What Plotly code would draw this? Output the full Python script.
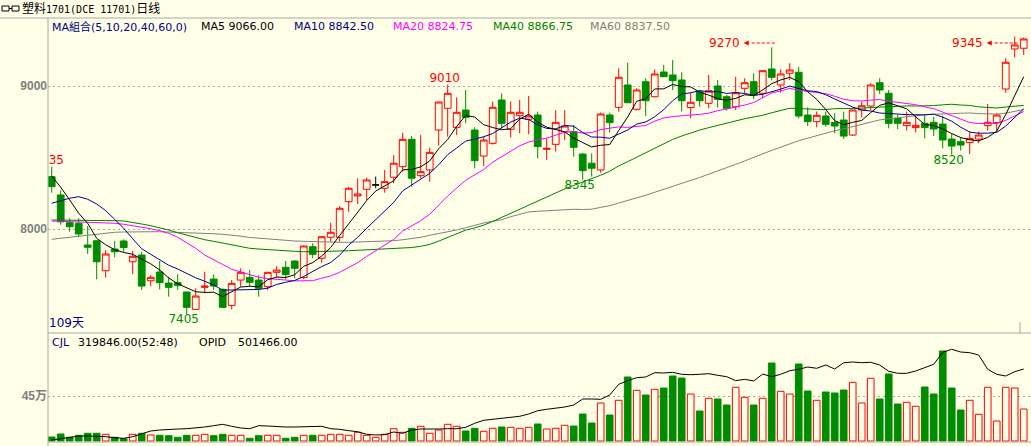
import plotly.graph_objects as go

W, H = 1031, 446
BG = "#FFFFE8"
RED = "#FF0000"
GREEN = "#008C00"
NAVY = "#000080"
GRAY = "#808080"
AXIS = "#A8A8A8"
FONT = "DejaVu Sans"

# ---------------- data ----------------
idx = list(range(109))

opens = [8366, 8238, 8044, 8040, 7888, 7918, 7708, 7860, 7916, 7771,
         7818, 7638, 7699, 7622, 7625, 7559, 7438, 7592, 7650, 7578,
         7466, 7643, 7662, 7643, 7597, 7697, 7732, 7776, 7660, 7876,
         7795, 7942, 7942, 8191, 8231, 8278, 8308, 8285, 8362, 8436,
         8627, 8373, 8413, 8692, 8844, 8711, 8832, 8692, 8510, 8599,
         8902, 8697, 8792, 8767, 8797, 8557, 8592, 8680, 8680, 8524,
         8460, 8413, 8797, 8851, 9007, 8837, 9030, 8925, 9098, 9077,
         9042, 8849, 8960, 8879, 9000, 8925, 8855, 8984, 9030, 8949,
         9119, 9007, 9089, 9096, 8797, 8751, 8790, 8744, 8762, 8657,
         8832, 8860, 9023, 8949, 8774, 8723, 8709, 8739, 8746, 8734,
         8629, 8611, 8604, 8629, 8723, 8744, 8979, 9259, 9264]

highs = [8435, 8270, 8075, 8075, 8021, 7920, 7853, 7916, 7928, 7846,
         7841, 7678, 7776, 7667, 7683, 7562, 7585, 7701, 7683, 7585,
         7643, 7725, 7713, 7678, 7700, 7741, 7776, 7780, 7885, 7900,
         7950, 8044, 8161, 8296, 8355, 8359, 8366, 8413, 8517, 8673,
         8650, 8657, 8569, 8890, 9010, 8921, 8972, 8711, 8646, 8891,
         8949, 8891, 8902, 8930, 8821, 8634, 8832, 8832, 8727, 8530,
         8529, 8814, 8814, 9124, 9163, 8984, 9054, 9117, 9147, 9182,
         9096, 8953, 8972, 9077, 9042, 8937, 9065, 9054, 9089, 9112,
         9270, 9117, 9159, 9135, 8851, 8821, 8821, 8809, 8821, 8835,
         8891, 9019, 9054, 8972, 8797, 8821, 8797, 8797, 8785, 8792,
         8669, 8641, 8681, 8681, 8874, 8809, 9194, 9345, 9340]

lows = [8254, 8030, 7981, 7942, 7825, 7648, 7660, 7802, 7841, 7685,
        7574, 7601, 7578, 7527, 7574, 7405, 7435, 7550, 7574, 7450,
        7438, 7597, 7597, 7527, 7574, 7662, 7648, 7655, 7648, 7795,
        7765, 7911, 7911, 8121, 8175, 8203, 8285, 8254, 8320, 8401,
        8296, 8355, 8331, 8583, 8646, 8657, 8739, 8424, 8441, 8590,
        8704, 8639, 8669, 8662, 8494, 8483, 8541, 8622, 8506, 8345,
        8366, 8394, 8674, 8821, 8880, 8828, 8790, 8921, 9061, 8972,
        8821, 8774, 8855, 8844, 8849, 8828, 8832, 8949, 8907, 8914,
        9040, 8953, 9042, 8774, 8720, 8711, 8715, 8669, 8630, 8650,
        8781, 8832, 8944, 8704, 8699, 8688, 8676, 8634, 8650, 8564,
        8520, 8548, 8524, 8599, 8688, 8681, 8953, 9200, 9217]

closes = [8296, 8050, 8016, 7965, 7872, 7771, 7825, 7841, 7870, 7809,
          7601, 7662, 7625, 7592, 7606, 7452, 7531, 7601, 7601, 7452,
          7620, 7697, 7627, 7585, 7697, 7713, 7681, 7725, 7881, 7823,
          7946, 7977, 8145, 8285, 8245, 8343, 8308, 8331, 8460, 8627,
          8355, 8401, 8536, 8888, 8949, 8816, 8781, 8478, 8622, 8851,
          8739, 8816, 8816, 8790, 8576, 8564, 8746, 8720, 8571, 8408,
          8425, 8804, 8744, 9061, 8883, 8972, 8897, 9084, 9065, 9037,
          8897, 8886, 8897, 8967, 8907, 8844, 8953, 9023, 8937, 9107,
          9061, 9084, 9112, 8790, 8751, 8795, 8732, 8720, 8650, 8832,
          8862, 9007, 8972, 8739, 8739, 8746, 8725, 8709, 8699, 8622,
          8580, 8587, 8634, 8657, 8746, 8797, 9166, 9287, 9329]

# moving-average values at the start of the window (history before the window is not visible)
ma5_early = [8371, 8292, 8203, 8110]
ma10_early = [8180, 8198, 8215, 8226, 8208, 8175, 8128, 8068, 8005]
ma20_early = [8056, 8054, 8051, 8049, 8047, 8047, 8044, 8040, 8033, 8023,
              8014, 8002, 7988, 7970, 7942, 7904, 7865, 7818, 7782]
ma40_early = [8063, 8063, 8063, 8062, 8061, 8061, 8060, 8058, 8056, 8047,
              8035, 8023, 8009, 7993, 7974, 7956, 7939, 7925, 7914, 7902,
              7890, 7876, 7865, 7860, 7855, 7851, 7846, 7844, 7841, 7841,
              7841, 7844, 7846, 7848, 7851, 7855, 7860, 7863, 7865]
ma60_early = [7928, 7935, 7944, 7953, 7960, 7967, 7972, 7977, 7979, 7981,
              7981, 7981, 7981, 7979, 7979, 7977, 7974, 7972, 7967, 7963,
              7958, 7950, 7941, 7935, 7929, 7923, 7918, 7916, 7914, 7911,
              7909, 7907, 7907, 7907, 7909, 7909, 7911, 7914, 7918, 7925,
              7933, 7942, 7956, 7967, 7977, 7993, 8009, 8026, 8042, 8054,
              8065, 8086, 8105, 8119, 8124, 8128, 8133, 8135, 8138]

# volume (CJL) in 万 (10k) lots
vol_wan = [4.0, 7.0, 3.7, 5.7, 7.7, 7.7, 6.7, 3.7, 2.3, 6.7,
           7.7, 6.0, 5.7, 5.3, 3.7, 5.7, 5.7, 6.7, 5.3, 6.7,
           5.7, 5.7, 2.7, 5.3, 5.7, 5.7, 2.7, 3.7, 5.7, 5.7,
           5.7, 6.7, 6.7, 5.7, 8.7, 5.7, 3.7, 6.7, 12.3, 8.7,
           12.7, 14.7, 7.7, 11.0, 16.7, 14.7, 10.0, 12.7, 9.7, 12.7,
           14.0, 13.7, 12.7, 13.7, 17.0, 12.0, 12.7, 15.7, 15.0, 27.0,
           18.0, 38.0, 26.0, 40.7, 64.0, 50.7, 46.0, 51.7, 53.0, 65.0,
           63.0, 47.0, 30.0, 42.7, 42.0, 36.0, 53.7, 43.7, 36.0, 42.7,
           78.0, 49.7, 47.0, 77.0, 50.0, 40.7, 49.0, 48.0, 51.0, 58.7,
           38.0, 62.7, 42.0, 67.0, 37.0, 38.7, 34.7, 54.0, 47.0, 90.0,
           53.0, 31.0, 40.7, 26.7, 53.7, 20.0, 53.7, 53.0, 31.9846]

# open interest (OPID) in 万
oi_wan = [21.75, 22.27, 22.95, 23.35, 23.35, 23.35, 23.07, 22.67, 22.43, 23.07,
          24.15, 25.35, 25.75, 26.03, 26.15, 26.27, 26.55, 26.95, 27.47, 28.03,
          27.23, 26.55, 26.27, 27.47, 27.35, 27.07, 26.95, 26.95, 26.95, 26.95,
          27.23, 26.27, 26.03, 25.47, 25.07, 24.03, 23.75, 23.87, 24.95, 24.43,
          25.75, 26.15, 26.03, 26.15, 26.27, 26.27, 26.83, 28.43, 29.63, 30.03,
          30.55, 31.07, 31.23, 32.15, 33.47, 34.03, 34.43, 34.95, 35.75, 38.15,
          38.15, 38.03, 39.75, 44.03, 45.47, 46.67, 46.95, 48.67, 48.55, 48.83,
          48.03, 47.87, 48.03, 48.27, 47.63, 47.07, 45.47, 46.03, 45.35, 48.15,
          47.07, 48.03, 49.47, 50.03, 50.95, 50.43, 51.75, 50.15, 52.67, 52.95,
          52.67, 52.83, 51.75, 49.23, 48.43, 48.43, 49.35, 50.67, 52.03, 56.83,
          58.03, 56.95, 56.67, 55.75, 50.03, 48.03, 47.35, 49.07, 50.1466]

price_ticks = [8000, 9000]
vol_tick = 450000
vol_tick_label = "45万"

title_text = ('<span style="font-size:12px">塑料</span>1701(DCE 11701)'
              '<span style="font-size:12px">日线</span>')
legend_items = [("MA組合(5,10,20,40,60,0)", NAVY), ("MA5 9066.00", "#000000"),
                ("MA10 8842.50", NAVY), ("MA20 8824.75", "#FF00FF"),
                ("MA40 8866.75", "#008000"), ("MA60 8837.50", GRAY)]
days_label = "109天"
vol_legend = [("CJL", NAVY), ("319846.00(52:48)", "#000000"),
              ("OPID", "#000000"), ("501466.00", "#000000")]

high_marks = [0, 44]          # red labels above the high
low_marks = [15, 59, 100]     # green labels below the low
arrow_marks = [80, 107]       # red labels with arrow to the high


def moving_average(vals, n, early):
    out = list(early)
    for i in range(n - 1, len(vals)):
        out.append(sum(vals[i - n + 1:i + 1]) / n)
    return out


ma5 = moving_average(closes, 5, ma5_early)
ma10 = moving_average(closes, 10, ma10_early)
ma20 = moving_average(closes, 20, ma20_early)
ma40 = moving_average(closes, 40, ma40_early)
ma60 = moving_average(closes, 60, ma60_early)

volumes = [v * 10000 for v in vol_wan]
oi = [v * 10000 for v in oi_wan]

# ---------------- layout geometry (pixels) ----------------
PLOT_L = 48
X0, X1 = -0.41, 108.81
P_TOP, P_BOT = 18, 333
V_TOP, V_BOT = 333, 442


def fx(px):
    return px / W


def fy(py):
    return 1 - py / H


fig = go.Figure()

# candles
norm = [i for i in idx if opens[i] != closes[i]]
doji = [i for i in idx if opens[i] == closes[i]]
fig.add_trace(go.Candlestick(
    x=norm, open=[opens[i] for i in norm], high=[highs[i] for i in norm],
    low=[lows[i] for i in norm], close=[closes[i] for i in norm],
    increasing=dict(line=dict(color=RED, width=1), fillcolor=BG),
    decreasing=dict(line=dict(color=GREEN, width=1), fillcolor=GREEN),
    whiskerwidth=0, hoverinfo="skip", showlegend=False, xaxis="x", yaxis="y"))
fig.add_trace(go.Candlestick(
    x=doji, open=[opens[i] for i in doji], high=[highs[i] for i in doji],
    low=[lows[i] for i in doji], close=[closes[i] for i in doji],
    increasing=dict(line=dict(color="#000000", width=1), fillcolor="#000000"),
    decreasing=dict(line=dict(color="#000000", width=1), fillcolor="#000000"),
    whiskerwidth=0, hoverinfo="skip", showlegend=False, xaxis="x", yaxis="y"))

# moving averages
for vals, col in [(ma60, GRAY), (ma40, "#008000"), (ma20, "#FF00FF"),
                  (ma10, "#000090"), (ma5, "#000000")]:
    fig.add_trace(go.Scatter(x=idx, y=vals, mode="lines", line=dict(color=col, width=1),
                             hoverinfo="skip", showlegend=False, xaxis="x", yaxis="y"))

# high / low labels (clipped to the plot area)
fig.add_trace(go.Scatter(
    x=[i - 0.33 for i in high_marks], y=[highs[i] for i in high_marks],
    text=[str(highs[i]) for i in high_marks], mode="text", textposition="top center",
    textfont=dict(color=RED, size=12, family=FONT), hoverinfo="skip", showlegend=False,
    xaxis="x", yaxis="y"))
fig.add_trace(go.Scatter(
    x=[i - 0.33 for i in low_marks], y=[lows[i] for i in low_marks],
    text=[str(lows[i]) for i in low_marks], mode="text", textposition="bottom center",
    textfont=dict(color=GREEN, size=12, family=FONT), hoverinfo="skip", showlegend=False,
    xaxis="x", yaxis="y"))

# volume bars
up = [closes[i] >= opens[i] for i in idx]
fig.add_trace(go.Bar(
    x=idx, y=volumes, width=0.74,
    marker=dict(color=[BG if u else GREEN for u in up],
                line=dict(color=[RED if u else GREEN for u in up], width=1)),
    hoverinfo="skip", showlegend=False, xaxis="x2", yaxis="y2"))
fig.add_trace(go.Scatter(x=idx, y=oi, mode="lines", line=dict(color="#000000", width=1),
                         hoverinfo="skip", showlegend=False, xaxis="x2", yaxis="y3"))


# price scale: 9000 at y=86px, 143 px per 1000
def price_at(py):
    return 9000 - (py - 86) * 1000 / 143


def vol_at(py):
    return (441 - py) * 10000


def oi_at(py):
    return (50.15 + (369 - py) * 0.4) * 10000


tickfont = dict(family="Liberation Sans, Noto Sans CJK SC", size=12, color=GRAY, weight="bold")
fig.update_layout(
    width=W, height=H, autosize=False,
    margin=dict(l=0, r=0, t=0, b=0, pad=0),
    paper_bgcolor=BG, plot_bgcolor=BG,
    boxgap=0.25, boxgroupgap=0,
    xaxis=dict(domain=[fx(PLOT_L), 1], range=[X0, X1], visible=False, anchor="y",
               rangeslider=dict(visible=False)),
    xaxis2=dict(domain=[fx(PLOT_L), 1], range=[X0, X1], visible=False, anchor="y2",
                matches="x"),
    yaxis=dict(domain=[fy(P_BOT), fy(P_TOP)], range=[price_at(P_BOT), price_at(P_TOP)],
               tickvals=price_ticks, ticktext=[str(t) for t in price_ticks],
               showgrid=True, gridcolor="#A8A8A8", griddash="2px,3px", gridwidth=1,
               zeroline=False, showline=False, ticks="", tickfont=tickfont, anchor="x"),
    yaxis2=dict(domain=[fy(V_BOT), fy(V_TOP)], range=[vol_at(V_BOT), vol_at(V_TOP)],
                tickvals=[vol_tick], ticktext=[vol_tick_label],
                showgrid=True, gridcolor="#A8A8A8", griddash="2px,3px", gridwidth=1,
                zeroline=False, showline=False, ticks="", tickfont=tickfont, anchor="x2"),
    yaxis3=dict(overlaying="y2", range=[oi_at(V_BOT), oi_at(V_TOP)], visible=False,
                anchor="x2"),
)

# frame lines
shapes = [
    dict(type="line", xref="paper", yref="paper", x0=0, x1=1, y0=fy(P_TOP), y1=fy(P_TOP)),
    dict(type="line", xref="paper", yref="paper", x0=fx(PLOT_L), x1=fx(PLOT_L), y0=fy(P_TOP), y1=0),
    dict(type="line", xref="paper", yref="paper", x0=fx(PLOT_L), x1=1, y0=fy(V_TOP), y1=fy(V_TOP)),
    dict(type="line", xref="paper", yref="paper", x0=fx(PLOT_L), x1=1, y0=fy(V_BOT), y1=fy(V_BOT)),
    dict(type="line", xref="paper", yref="paper", x0=fx(1020), x1=fx(1020), y0=fy(322), y1=fy(333)),
]
for s in shapes:
    s["line"] = dict(color=AXIS, width=1)
# title icon
shapes += [
    dict(type="rect", xref="paper", yref="paper", x0=fx(2), x1=fx(9), y0=fy(11), y1=fy(6),
         line=dict(color="#000000", width=1)),
    dict(type="rect", xref="paper", yref="paper", x0=fx(12), x1=fx(19), y0=fy(11), y1=fy(6),
         line=dict(color="#000000", width=1)),
    dict(type="line", xref="paper", yref="paper", x0=fx(9), x1=fx(12), y0=fy(8.5), y1=fy(8.5),
         line=dict(color="#000000", width=1)),
]

annotations = []


def text_px(t, x, y, color, size=11, family=FONT, anchor="left"):
    annotations.append(dict(text=t, xref="paper", yref="paper", x=fx(x), y=fy(y),
                            xanchor=anchor, yanchor="middle", showarrow=False,
                            font=dict(color=color, size=size, family=family), borderpad=0))


text_px(title_text, 21, 9, "#000000", size=10, family="DejaVu Sans Mono, Noto Sans CJK SC")
for (t, c), x in zip(legend_items, [51, 200, 293, 392, 492, 589]):
    text_px(t, x, 27, c, size=11, family=FONT + ", Noto Sans CJK TC")
text_px(days_label, 48, 323, NAVY, size=12, family=FONT + ", Noto Sans CJK SC")
for (t, c), x in zip(vol_legend, [51, 77, 198, 237]):
    text_px(t, x, 342, c, size=11)

# arrow labels for the two recent highs
LABEL_Y = 43
for i in arrow_marks:
    dy = (highs[i] - price_at(LABEL_Y)) * 143 / 1000  # px shift from the high to the label row
    annotations.append(dict(text=str(highs[i]), xref="x", yref="y", x=i, y=highs[i],
                            xshift=-31, yshift=-dy, xanchor="right", yanchor="middle",
                            showarrow=False, font=dict(color=RED, size=12, family=FONT),
                            borderpad=0))
    annotations.append(dict(text="", xref="x", yref="y", x=i, y=highs[i],
                            xshift=-28, yshift=-dy, showarrow=True, arrowhead=2,
                            arrowsize=1, arrowwidth=1, arrowcolor=RED, ax=7, ay=0,
                            standoff=0))
    shapes.append(dict(type="line", xref="x", yref="paper", x0=i - 20 / 9.0, x1=i + 0.35,
                       y0=fy(LABEL_Y), y1=fy(LABEL_Y), line=dict(color=RED, width=1, dash="3px,2px")))

fig.update_layout(shapes=shapes, annotations=annotations)
fig.write_html("out.html")
